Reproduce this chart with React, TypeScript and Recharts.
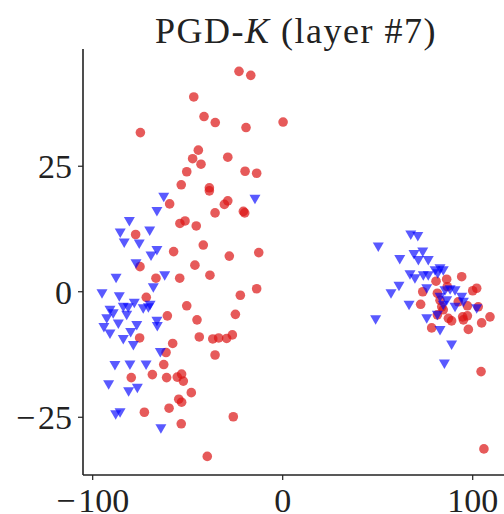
import { ScatterChart, Scatter, XAxis, YAxis } from 'recharts'

// clean examples (red circles)
const cleanX = [
  -23.0, -16.8, -46.8, -41.4, -35.5, -19.3, 0.2, -74.9, -44.4, -47.4, -43.0, -28.9, -50.5, -19.8, -13.7, -53.4,
  -38.6, -38.6, -59.5, -28.9, -30.7, -35.6, -20.7, -20.0, -54.1, -51.4, -45.5, -77.4, -41.8, -57.4, -28.1, -12.6,
  -46.2, -75.1, -66.7, -54.2, -38.3, -71.8, -22.3, -13.7, -50.5, -60.7, -45.1, -24.9, -75.3, -57.9, -43.9, -36.8,
  -33.7, -29.5, -26.5, -35.6, -61.4, -62.6, -68.6, -79.7, -61.1, -55.5, -53.2, -52.3, -48.1, -54.7, -53.2, -72.8,
  -59.8, -53.4, -26.0, -39.7,
  94.2, 86.3, 80.7, 73.7, 81.4, 86.6, 100.0, 102.1, 72.6, 82.8, 83.7, 92.4, 97.2, 102.9, 81.4, 87.2, 88.9, 94.7,
  97.2, 95.1, 104.7, 109.1, 78.4, 97.7, 104.4, 84.5, 105.9,
]
const cleanY = [
  43.9, 43.1, 38.8, 34.9, 33.7, 32.7, 33.8, 31.7, 28.2, 26.5, 25.4, 26.8, 23.9, 24.0, 23.6, 21.3,
  20.7, 20.1, 17.5, 18.1, 17.4, 15.7, 16.0, 15.7, 13.6, 14.1, 13.1, 11.4, 9.3, 8.0, 7.1, 7.8,
  5.3, 5.0, 2.7, 2.7, 3.3, -1.1, -0.7, 0.6, -2.8, -4.8, -5.6, -4.5, -9.2, -10.3, -9.0, -9.4,
  -9.2, -9.3, -8.6, -12.6, -12.1, -14.5, -16.5, -17.1, -17.1, -17.0, -16.4, -17.8, -20.1, -21.4, -22.0, -24.0,
  -23.2, -26.3, -24.9, -32.8,
  3.0, 2.5, 2.1, 0.0, -0.3, 1.0, 0.2, 0.7, -2.5, -1.7, -3.0, -2.0, -2.8, -3.0, -4.6, -5.3, -5.8, -5.0,
  -4.8, -5.6, -6.2, -5.0, -7.2, -7.5, -15.9, -3.6, -31.3,
]

// adversarial examples (blue triangles)
const advX = [
  -62.6, -14.6, -66.2, -80.7, -85.5, -70.0, -83.4, -75.5, -66.2, -69.3, -77.2, -87.7, -62.1, -68.1, -95.1, -86.0,
  -83.9, -81.3, -78.1, -73.4, -69.8, -70.7, -90.9, -89.2, -92.6, -86.5, -82.1, -94.1, -90.9, -76.8, -80.0, -66.2,
  -66.0, -83.9, -78.6, -64.4, -88.3, -80.4, -71.9, -91.6, -81.1, -76.5, -87.9, -85.6, -64.1,
  67.4, 71.1, 50.3, 61.6, 69.1, 73.7, 71.4, 76.6, 67.0, 69.6, 74.0, 76.6, 82.8, 84.5, 81.6, 61.2, 57.0, 75.8,
  85.4, 88.1, 90.7, 82.8, 86.3, 94.2, 95.1, 66.5, 90.7, 102.1, 48.9, 75.8, 81.4, 82.8, 88.9, 85.1, 84.5, 80.2,
]
const advY = [
  18.9, 18.5, 16.1, 14.1, 11.8, 12.2, 9.8, 9.6, 8.3, 7.2, 5.7, 2.8, 3.3, 0.9, -0.3, -0.9,
  -3.0, -3.1, -2.2, -3.3, -2.6, -3.1, -3.6, -4.3, -5.3, -6.3, -4.6, -7.0, -8.3, -6.6, -8.0, -5.8,
  -6.8, -9.4, -10.6, -12.0, -14.6, -14.5, -14.5, -18.4, -19.8, -19.1, -24.4, -24.0, -27.2,
  11.4, 11.1, 9.0, 6.5, 7.5, 8.0, 6.3, 6.3, 3.5, 2.7, 3.3, 3.3, 4.7, 4.3, 3.7, 1.2, -0.3, 0.7,
  0.3, 0.5, 0.3, -1.0, -1.7, -1.0, -2.0, -2.6, -3.0, -3.3, -5.5, -5.3, -4.6, -7.6, -10.5, -14.3, -2.6, 4.3,
]

const xTicks = [-100, 0, 100]
const yTicks = [-25, 0, 25]

const cleanData = cleanX.map((x, i) => ({ x, y: cleanY[i] }))
const advData = advX.map((x, i) => ({ x, y: advY[i] }))

const font = '"Liberation Serif", "DejaVu Serif", serif'
const tickStyle = { fill: '#222', fontSize: 34, fontFamily: font }
// latex-style minus, a touch wider than the plain one
const fmt = (v: number) => (v < 0 ? '\u2212\u200a' + Math.abs(v) : String(v))

const Dot = (p: any) => (
  <circle cx={p.cx} cy={p.cy} r={4.8} fill="#dc1414" fillOpacity={0.7} />
)

const Tri = (p: any) => {
  const { cx, cy } = p
  const d = `M${cx - 5.5},${cy - 4} L${cx + 5.5},${cy - 4} L${cx},${cy + 5.5} Z`
  return <path d={d} fill="#0000ff" fillOpacity={0.65} />
}

export default function App() {
  return (
    <div
      style={{
        position: 'absolute',
        left: 0,
        top: 0,
        width: 504,
        height: 514,
        overflow: 'hidden',
        background: '#fff',
      }}
    >
      <div
        style={{
          position: 'absolute',
          left: 0,
          width: 592,
          top: 13,
          textAlign: 'center',
          fontFamily: font,
          fontSize: 36,
          letterSpacing: 1.5,
          color: '#222',
          lineHeight: '36px',
          whiteSpace: 'nowrap',
        }}
      >
        PGD-<i>K</i> (layer #7)
      </div>
      <ScatterChart width={512} height={514} margin={{ top: 49, right: 3, bottom: 0, left: 0 }}>
        <XAxis
          type="number"
          dataKey="x"
          domain={[-105.1, 119.1]}
          allowDataOverflow
          ticks={xTicks}
          tickFormatter={fmt}
          tick={tickStyle}
          tickSize={5}
          tickMargin={8}
          height={39}
          axisLine={{ stroke: '#222', strokeWidth: 1.6 }}
          tickLine={{ stroke: '#222', strokeWidth: 1.2 }}
        />
        <XAxis
          xAxisId="top"
          orientation="top"
          type="number"
          domain={[0, 1]}
          tick={false}
          tickLine={false}
          height={0}
          axisLine={{ stroke: '#222', strokeWidth: 1.6 }}
        />
        <YAxis
          type="number"
          dataKey="y"
          domain={[-36.5, 48.35]}
          allowDataOverflow
          ticks={yTicks}
          tickFormatter={fmt}
          tick={tickStyle}
          tickSize={5}
          tickMargin={6}
          width={83}
          axisLine={{ stroke: '#222', strokeWidth: 1.6 }}
          tickLine={{ stroke: '#222', strokeWidth: 1.2 }}
        />
        <Scatter data={cleanData} shape={Dot} isAnimationActive={false} />
        <Scatter data={advData} shape={Tri} isAnimationActive={false} />
      </ScatterChart>
    </div>
  )
}
